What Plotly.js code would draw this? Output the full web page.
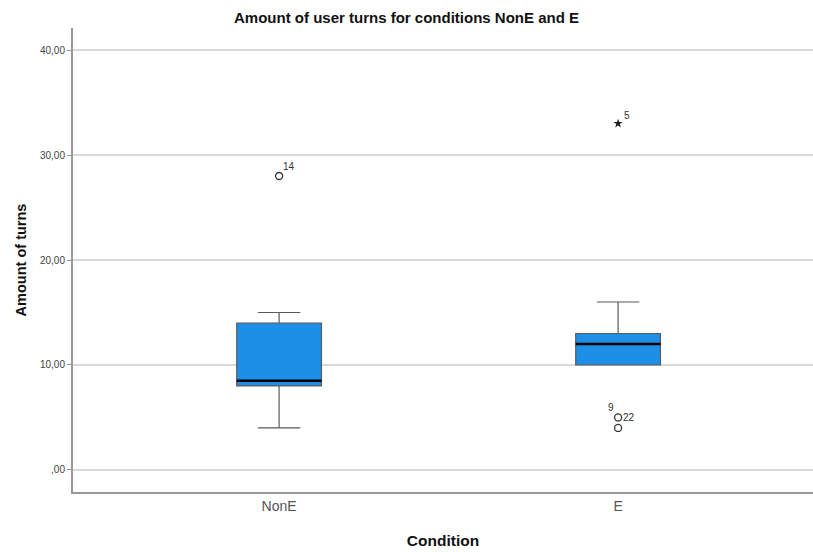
<!DOCTYPE html>
<html>
<head>
<meta charset="utf-8">
<script src="https://cdn.plot.ly/plotly-3.0.1.min.js"></script>
<style>html,body{margin:0;padding:0;background:#fff;}#chart{width:813px;height:552px;}</style>
</head>
<body>
<div id="chart"></div>
<script>
// Data
const categories = ["NonE", "E"];
const q1Values = [8, 10];
const medianValues = [8.5, 12];
const q3Values = [14, 13];
const lowerFences = [4, 10];
const upperFences = [15, 16];
// Outliers: category index, value, label
const outlierCat = [0, 1, 1];
const outlierVal = [28, 5, 4];
const outlierLabel = ["14", "22", "9"];
const extremeCat = [1];
const extremeVal = [33];
const extremeLabel = ["5"];
const yTickVals = [0, 10, 20, 30, 40];
const yTickText = [",00", "10,00", "20,00", "30,00", "40,00"];

const boxWidth = 0.25;
const traces = [];
categories.forEach((c, i) => {
  traces.push({
    type: "box",
    x: [i],
    q1: [q1Values[i]],
    median: [medianValues[i]],
    q3: [q3Values[i]],
    lowerfence: [lowerFences[i]],
    upperfence: [upperFences[i]],
    boxpoints: false,
    width: boxWidth,
    whiskerwidth: 0.5,
    fillcolor: "#1e8fe6",
    line: { color: "#5a5a5a", width: 1.2 },
    hoverinfo: "skip",
    showlegend: false
  });
  traces.push({
    type: "scatter",
    mode: "lines",
    x: [i - boxWidth / 2, i + boxWidth / 2],
    y: [medianValues[i], medianValues[i]],
    line: { color: "#000000", width: 2.5 },
    hoverinfo: "skip",
    showlegend: false
  });
});
traces.push({
  type: "scatter", mode: "markers",
  x: outlierCat, y: outlierVal,
  marker: { symbol: "circle-open", size: 7, color: "#333", line: { width: 1.3, color: "#333" } },
  hoverinfo: "skip", showlegend: false
});
traces.push({
  type: "scatter", mode: "markers",
  x: extremeCat, y: extremeVal,
  marker: { symbol: "star", size: 7, color: "#222" },
  hoverinfo: "skip", showlegend: false
});

const labelShifts = [[10, 10], [11, 0], [-7, 20]];
const annotations = [];
outlierCat.forEach((c, k) => {
  annotations.push({
    x: c, y: outlierVal[k], xref: "x", yref: "y", text: outlierLabel[k],
    showarrow: false, xshift: labelShifts[k][0], yshift: labelShifts[k][1],
    font: { family: "Arial, Liberation Sans, sans-serif", size: 10, color: "#333" }
  });
});
extremeCat.forEach((c, k) => {
  annotations.push({
    x: c, y: extremeVal[k], xref: "x", yref: "y", text: extremeLabel[k],
    showarrow: false, xshift: 9, yshift: 8,
    font: { family: "Arial, Liberation Sans, sans-serif", size: 10, color: "#333" }
  });
});

const layout = {
  width: 813, height: 552,
  margin: { l: 73, r: 0, t: 28, b: 60 },
  paper_bgcolor: "#ffffff", plot_bgcolor: "#ffffff",
  font: { family: "Arial, Liberation Sans, sans-serif", color: "#333" },
  title: {
    text: "<b>Amount of user turns for conditions NonE and E</b>",
    x: 0.5, xanchor: "center", y: 0.968, yanchor: "middle",
    font: { size: 15, color: "#111", family: "Arial, Liberation Sans, sans-serif" }
  },
  xaxis: {
    range: [-0.608, 1.575],
    tickvals: categories.map((c, i) => i),
    ticktext: categories,
    showgrid: false, zeroline: false,
    showline: true, linecolor: "#999", linewidth: 2,
    ticks: "", tickfont: { size: 14, color: "#555" },
    title: { text: "<b>Condition</b>", font: { size: 15.5, color: "#111" }, standoff: 22 }
  },
  yaxis: {
    range: [-2.1, 42.1],
    tickvals: yTickVals, ticktext: yTickText,
    showgrid: true, gridcolor: "#d9d9d9", gridwidth: 1.5,
    zeroline: false,
    showline: true, linecolor: "#999", linewidth: 2,
    ticks: "outside", ticklen: 4, tickcolor: "#999",
    tickfont: { size: 10, color: "#444" },
    title: { text: "<b>Amount of turns</b>", font: { size: 14.5, color: "#111" }, standoff: 10 }
  },
  annotations: annotations,
  showlegend: false
};

Plotly.newPlot("chart", traces, layout, { staticPlot: true, displayModeBar: false });
</script>
</body>
</html>
